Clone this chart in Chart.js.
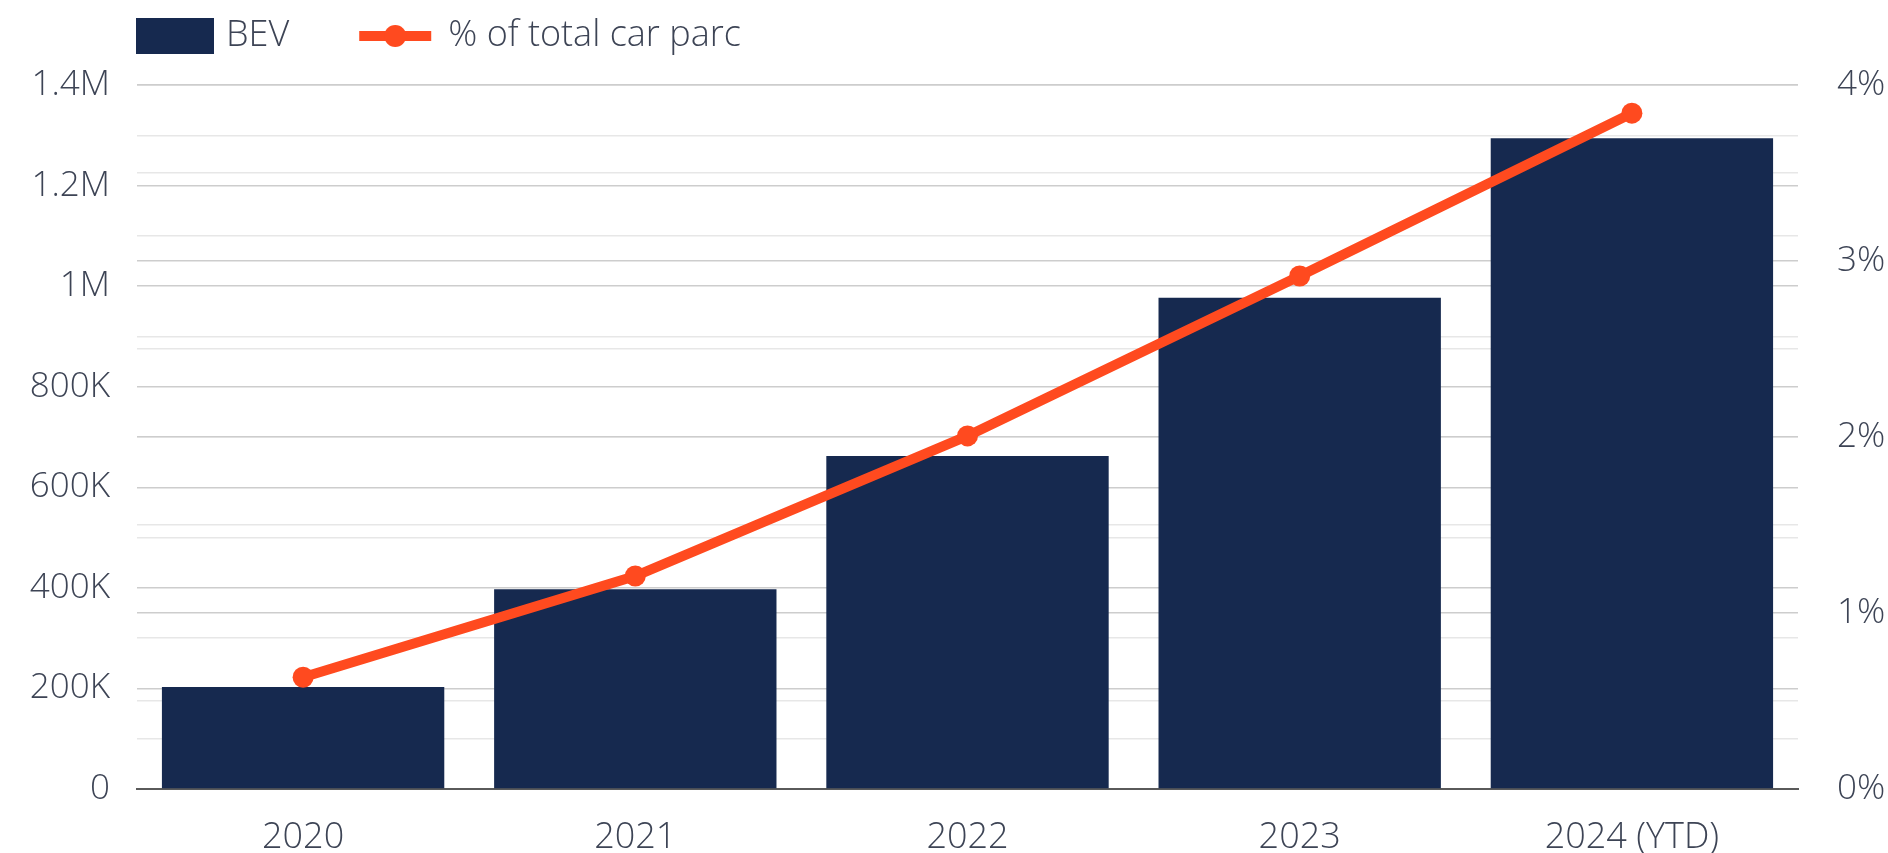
<!DOCTYPE html>
<html>
<head>
<meta charset="utf-8">
<script src="https://cdn.jsdelivr.net/npm/chart.js@4.4.1/dist/chart.umd.min.js"></script>
<style>
  html, body { margin: 0; padding: 0; background: #ffffff; }
  #wrap { width: 1888px; height: 853px; position: relative; }
</style>
</head>
<body>
<div id="wrap"><canvas id="c"></canvas></div>
<script>
// ---- Data ----
const categories = ['2020', '2021', '2022', '2023', '2024 (YTD)'];
const bevValues = [203000, 397000, 662000, 977000, 1294000];
const sharePercent = [0.635, 1.21, 2.006, 2.915, 3.84];
const leftTickLabels = ['0', '200K', '400K', '600K', '800K', '1M', '1.2M', '1.4M'];
const rightTickLabels = ['0%', '1%', '2%', '3%', '4%'];
const seriesNames = ['BEV', '% of total car parc'];

const NAVY = '#16294f';
const ORANGE = '#ff4a1f';
const TEXT = '#3d4455';
const GRID_DARK = '#cdcdcd';
const GRID_LIGHT = '#e7e7e7';
const FONT = '"Open Sans", "DejaVu Sans", sans-serif';

Chart.defaults.font.family = FONT;
Chart.defaults.font.size = 35;
Chart.defaults.font.weight = 300;
Chart.defaults.color = TEXT;

const legendPlugin = {
  id: 'customLegend',
  afterDraw(chart) {
    const ctx = chart.ctx;
    const area = chart.chartArea;
    const ds = chart.data.datasets;
    const cy = 36;
    ctx.save();
    ctx.font = '300 36px ' + FONT;
    ctx.textBaseline = 'middle';
    ctx.textAlign = 'left';
    // bar item
    let x = area.left - 1;
    ctx.fillStyle = ds[0].backgroundColor;
    ctx.fillRect(x, cy - 18, 78, 36);
    x += 78 + 12;
    ctx.fillStyle = TEXT;
    ctx.fillText(ds[0].label, x, cy);
    x += ctx.measureText(ds[0].label).width + 70;
    // line item
    ctx.strokeStyle = ds[1].borderColor;
    ctx.lineWidth = 10;
    ctx.beginPath();
    ctx.moveTo(x, cy);
    ctx.lineTo(x + 72, cy);
    ctx.stroke();
    ctx.fillStyle = ds[1].borderColor;
    ctx.beginPath();
    ctx.arc(x + 36, cy, 11, 0, Math.PI * 2);
    ctx.fill();
    x += 72 + 17;
    ctx.fillStyle = TEXT;
    ctx.fillText(ds[1].label, x, cy);
    ctx.restore();
  }
};

new Chart(document.getElementById('c'), {
  data: {
    labels: categories,
    datasets: [
      {
        type: 'bar',
        label: seriesNames[0],
        data: bevValues,
        backgroundColor: NAVY,
        yAxisID: 'y',
        barPercentage: 1,
        categoryPercentage: 0.85,
        order: 2
      },
      {
        type: 'line',
        label: seriesNames[1],
        data: sharePercent,
        borderColor: ORANGE,
        backgroundColor: ORANGE,
        borderWidth: 10,
        pointRadius: 10.5,
        pointBorderWidth: 0,
        pointBackgroundColor: ORANGE,
        tension: 0,
        yAxisID: 'y1',
        order: 1
      }
    ]
  },
  options: {
    responsive: true,
    maintainAspectRatio: false,
    animation: false,
    layout: { padding: { top: 85, right: 0, bottom: 0, left: 0 } },
    plugins: {
      legend: { display: false },
      tooltip: { enabled: false }
    },
    scales: {
      x: {
        grid: { display: false },
        border: { display: true, color: '#5a5a5a', width: 2 },
        ticks: { padding: 19, color: TEXT, maxRotation: 0, font: { size: 36 } },
        afterFit(scale) { scale.height = 64; }
      },
      y: {
        position: 'left',
        min: 0,
        max: 1400000,
        border: { display: false },
        grid: {
          drawTicks: false,
          lineWidth: 1.5,
          color: (c) => (c.tick && c.tick.value % 200000 === 0) ? GRID_DARK : GRID_LIGHT
        },
        ticks: {
          stepSize: 100000,
          padding: 27,
          color: TEXT,
          callback: (v) => (v % 200000 === 0) ? leftTickLabels[v / 200000] : ''
        },
        afterFit(scale) { scale.width = 137; }
      },
      y1: {
        position: 'right',
        min: 0,
        max: 4,
        border: { display: false },
        grid: {
          drawOnChartArea: true,
          drawTicks: false,
          lineWidth: 1.5,
          color: (c) => (c.tick && Number.isInteger(c.tick.value)) ? GRID_DARK : GRID_LIGHT
        },
        ticks: {
          stepSize: 0.5,
          padding: 39,
          color: TEXT,
          callback: (v) => Number.isInteger(v) ? rightTickLabels[v] : ''
        },
        afterFit(scale) { scale.width = 90; }
      }
    }
  },
  plugins: [legendPlugin]
});
</script>
</body>
</html>
